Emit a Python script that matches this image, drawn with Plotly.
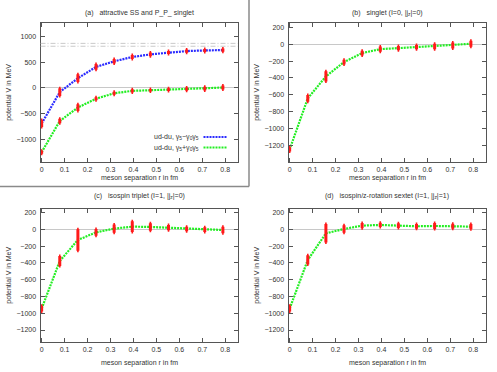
import plotly.graph_objects as go

W, H = 497, 372

# ---------------- data ----------------
r_fm = [0.0, 0.079, 0.158, 0.237, 0.316, 0.395, 0.474, 0.553, 0.632, 0.711, 0.790]

# (a) attractive SS and P_P_ singlet
a_minus = [-692, -80, 190, 410, 519, 603, 654, 692, 718, 731, 737]
a_minus_err = [70, 75, 75, 55, 45, 40, 35, 30, 30, 30, 30]
a_plus = [-1251, -643, -381, -210, -103, -56, -44, -32, -24, -12, 8]
a_plus_err = [30, 45, 65, 30, 30, 30, 26, 26, 32, 36, 38]
thresholds = [868, 812]

# (b) singlet
b_val = [-1251, -643, -381, -210, -103, -56, -44, -32, -24, -12, 8]
b_err = [26, 40, 60, 28, 28, 30, 24, 24, 32, 36, 36]

# (c) isospin triplet
c_val = [-945, -377, -127, -36, 8, 32, 28, 20, 4, -4, -8]
c_err = [35, 60, 127, 40, 50, 65, 45, 30, 28, 28, 40]

# (d) isospin/z-rotation sextet
d_val = [-945, -365, -48, 4, 44, 52, 44, 36, 40, 36, 32]
d_err = [35, 55, 110, 45, 30, 25, 28, 28, 35, 30, 30]

legend_labels = ["ud-du, γ<sub>5</sub>−γ<sub>0</sub>γ<sub>5</sub>",
                 "ud-du, γ<sub>5</sub>+γ<sub>0</sub>γ<sub>5</sub>"]
titles = ["(a)   attractive SS and P_P_ singlet",
          "(b)   singlet (I=0, |j<sub>z</sub>|=0)",
          "(c)   isospin triplet (I=1, |j<sub>z</sub>|=0)",
          "(d)   isospin/z-rotation sextet (I=1, |j<sub>z</sub>|=1)"]
x_ticks = [0, 0.1, 0.2, 0.3, 0.4, 0.5, 0.6, 0.7, 0.8]
x_ticktext = ["0", "0.1", "0.2", "0.3", "0.4", "0.5", "0.6", "0.7", "0.8"]
y_ticks_a = [-1000, -500, 0, 500, 1000]
y_ticks_b = [-1200, -1000, -800, -600, -400, -200, 0, 200]

# ---------------- styling ----------------
FONT = "Liberation Sans, Arial, sans-serif"
TXT = "#333333"
BLUE = "#2b2bff"
GREEN = "#22ee22"
RED = "#ff1a1a"
AX = "#555555"


def px_x(p):
    return p / W


def px_y(p):
    return 1 - p / H


# panel boxes in pixels: (left, right, top, bottom)
boxes = {
    1: (40.5, 237.8, 23.3, 162.3),
    2: (288.5, 485.8, 23.3, 162.3),
    3: (40.5, 237.8, 209.0, 342.3),
    4: (288.5, 485.8, 209.0, 342.3),
}
yranges = {1: [-1447, 1259], 2: [-1405, 252], 3: [-1346, 242], 4: [-1346, 242]}
yticks = {1: y_ticks_a, 2: y_ticks_b, 3: y_ticks_b, 4: y_ticks_b}

fig = go.Figure()


def add_series(i, y, err, color, name):
    xa = "x" if i == 1 else f"x{i}"
    ya = "y" if i == 1 else f"y{i}"
    fig.add_trace(go.Scatter(x=r_fm, y=y, mode="lines", name=name,
                             line=dict(color=color, width=2.2, dash="2px,1px"),
                             xaxis=xa, yaxis=ya, showlegend=False))
    fig.add_trace(go.Scatter(x=r_fm, y=y, mode="markers",
                             marker=dict(size=1, color="rgba(0,0,0,0)"),
                             error_y=dict(type="data", array=err, color=RED,
                                          thickness=3, width=0.8),
                             xaxis=xa, yaxis=ya, showlegend=False))


add_series(1, a_minus, a_minus_err, BLUE, legend_labels[0])
add_series(1, a_plus, a_plus_err, GREEN, legend_labels[1])
add_series(2, b_val, b_err, GREEN, "b")
add_series(3, c_val, c_err, GREEN, "c")
add_series(4, d_val, d_err, GREEN, "d")

layout = dict(width=W, height=H, margin=dict(l=0, r=0, t=0, b=0),
              paper_bgcolor="white", plot_bgcolor="white",
              font=dict(family=FONT, size=7, color=TXT), showlegend=False)

for i, (l, rr, t, b) in boxes.items():
    xk = "xaxis" if i == 1 else f"xaxis{i}"
    yk = "yaxis" if i == 1 else f"yaxis{i}"
    ya = "y" if i == 1 else f"y{i}"
    xa = "x" if i == 1 else f"x{i}"
    layout[xk] = dict(domain=[px_x(l), px_x(rr)], range=[-0.005, 0.855],
                      anchor=ya, tickvals=x_ticks, ticktext=x_ticktext,
                      ticks="inside", ticklen=4, tickcolor=AX, mirror="ticks",
                      showline=True, linecolor=AX, linewidth=1,
                      showgrid=False, zeroline=False, ticklabelstandoff=0,
                      tickfont=dict(size=7, color=TXT))
    layout[yk] = dict(domain=[px_y(b), px_y(t)], range=yranges[i],
                      anchor=xa, tickvals=yticks[i],
                      ticks="inside", ticklen=4, tickcolor=AX, mirror="ticks",
                      showline=True, linecolor=AX, linewidth=1,
                      showgrid=False, zeroline=True, zerolinecolor="#c8c8c8",
                      zerolinewidth=1, ticklabelstandoff=2,
                      tickfont=dict(size=7, color=TXT))

fig.update_layout(**layout)

annotations = []
centers_x = {1: 139, 2: 387, 3: 139, 4: 387}
title_y = {1: 12.7, 2: 12.7, 3: 195.7, 4: 195.7}
xtitle_y = {1: 177.5, 2: 177.5, 3: 362.5, 4: 362.5}
ytitle_x = {1: 9, 2: 257, 3: 9, 4: 257}
for i, (l, rr, t, b) in boxes.items():
    annotations.append(dict(x=px_x(centers_x[i]), y=px_y(title_y[i]), xref="paper", yref="paper",
                            text=titles[i - 1], showarrow=False, xanchor="center", yanchor="middle",
                            font=dict(size=7, color=TXT)))
    annotations.append(dict(x=px_x(centers_x[i]), y=px_y(xtitle_y[i]), xref="paper", yref="paper",
                            text="meson separation r in fm", showarrow=False,
                            xanchor="center", yanchor="middle", font=dict(size=7, color=TXT)))
    annotations.append(dict(x=px_x(ytitle_x[i]), y=px_y((t + b) / 2), xref="paper", yref="paper",
                            text="potential V in MeV", showarrow=False, textangle=-90,
                            xanchor="center", yanchor="middle", font=dict(size=7, color=TXT)))

# legend of panel (a): text left, sample line right
leg_y = [137.0, 147.5]
leg_colors = [BLUE, GREEN]
shapes = []
for k in range(2):
    annotations.append(dict(x=px_x(200.5), y=px_y(leg_y[k]), xref="paper", yref="paper",
                            text=legend_labels[k], showarrow=False, xanchor="right",
                            yanchor="middle", font=dict(size=7, color=TXT)))
    shapes.append(dict(type="line", xref="paper", yref="paper",
                       x0=px_x(203.5), x1=px_x(226.5), y0=px_y(leg_y[k]), y1=px_y(leg_y[k]),
                       line=dict(color=leg_colors[k], width=2.2, dash="2px,1px")))

# threshold lines in panel (a)
for th in thresholds:
    shapes.append(dict(type="line", xref="x domain", yref="y", x0=0, x1=1, y0=th, y1=th,
                       line=dict(color="#bdbdbd", width=0.8, dash="5px,2px,1px,2px")))

# frame around panel (a)
shapes.append(dict(type="line", xref="paper", yref="paper", x0=px_x(249), x1=px_x(249),
                   y0=px_y(0), y1=px_y(186.5), line=dict(color="#8a8a8a", width=1.5)))
shapes.append(dict(type="line", xref="paper", yref="paper", x0=0, x1=px_x(249),
                   y0=px_y(186.5), y1=px_y(186.5), line=dict(color="#8a8a8a", width=1.5)))

fig.update_layout(annotations=annotations, shapes=shapes)
fig.write_html("out.html", config={"displayModeBar": False},
               post_script="document.body.style.margin='0';")
